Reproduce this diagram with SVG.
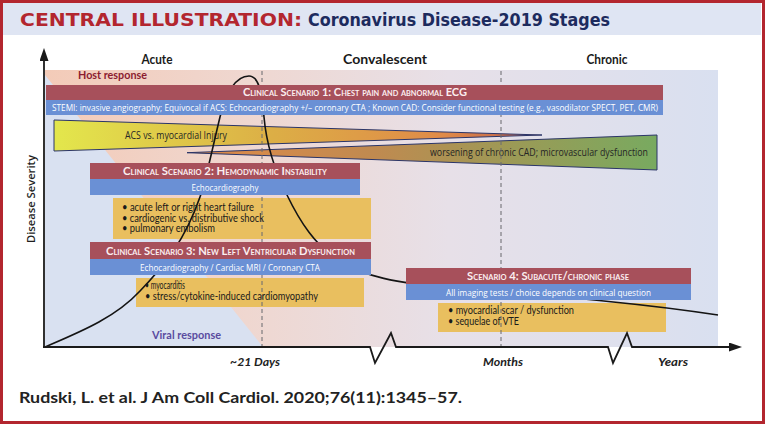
<svg xmlns="http://www.w3.org/2000/svg" width="765" height="424" viewBox="0 0 765 424">
<defs>
<style>
.hdr{font-family:Lato,"Liberation Sans",sans-serif;font-weight:700;font-size:12.5px;fill:#1a1a1a;text-anchor:middle}
.sc{font-family:Lato,"Liberation Sans",sans-serif;font-weight:700;font-size:10.5px;font-variant:small-caps;fill:#fbeef0;text-anchor:middle}
.bt{font-family:"Open Sans","Liberation Sans",sans-serif;font-size:9.5px;fill:#ffffff;text-anchor:middle}
.bl{font-family:Lato,"Liberation Sans",sans-serif;font-size:10.5px;fill:#1a1a1a}
.wt{font-family:"Open Sans","Liberation Sans",sans-serif;font-weight:500;font-size:10.5px;fill:#262626}
.red{fill:#a7505b}
.blue{fill:#6a90d5}
.yel{fill:#e9bf5f}
.ax{font-family:Lato,"Liberation Sans",sans-serif;font-weight:700;font-style:italic;font-size:11.5px;fill:#222222;text-anchor:middle}
.dash{stroke:#6d6d72;stroke-width:1.3;stroke-dasharray:4 3;fill:none;opacity:0.8}
.axis{stroke:#1a1a1a;stroke-width:1.8;fill:none}
.wedge{stroke:#2b3568;stroke-width:1}
</style>
<linearGradient id="peach" gradientUnits="userSpaceOnUse" x1="45" y1="0" x2="718" y2="0">
<stop offset="0" stop-color="#f3cbb8"/>
<stop offset="0.3" stop-color="#efd7d0"/>
<stop offset="0.6" stop-color="#e7e0e8"/>
<stop offset="1" stop-color="#d9e0f0"/>
</linearGradient>
<linearGradient id="w1" gradientUnits="userSpaceOnUse" x1="54" y1="0" x2="542" y2="0">
<stop offset="0" stop-color="#e3e74c"/>
<stop offset="0.45" stop-color="#dcae46"/>
<stop offset="0.8" stop-color="#e08a48"/>
<stop offset="1" stop-color="#b85a4e"/>
</linearGradient>
<linearGradient id="w2" gradientUnits="userSpaceOnUse" x1="187" y1="0" x2="657" y2="0">
<stop offset="0" stop-color="#e08a48"/>
<stop offset="0.4" stop-color="#c08a50"/>
<stop offset="0.7" stop-color="#9b9a56"/>
<stop offset="1" stop-color="#78aa60"/>
</linearGradient>
<marker id="arr" markerUnits="userSpaceOnUse" markerWidth="14" markerHeight="10" refX="0" refY="4.5" orient="auto">
<path d="M0,0 L13,4.5 L0,9 z" fill="#1a1a1a"/>
</marker>
</defs>

<!-- frame and title -->
<rect x="1.5" y="1.5" width="762" height="421" fill="#ffffff" stroke="#b3262f" stroke-width="3"/>
<rect x="3" y="3" width="758" height="32" fill="#dfe5f3"/>
<text x="20" y="26" font-family="'DejaVu Sans',sans-serif" font-weight="700" font-size="18" fill="#b3262f" textLength="282" lengthAdjust="spacingAndGlyphs">CENTRAL ILLUSTRATION:</text>
<text x="308" y="26" font-family="'DejaVu Sans',sans-serif" font-weight="700" font-size="17" fill="#1d2b5e" textLength="302" lengthAdjust="spacingAndGlyphs">Coronavirus Disease-2019 Stages</text>

<!-- plot background -->
<g id="background">
<rect x="45" y="70" width="673" height="277" fill="#d9e1f1"/>
<polygon points="45,70 718,70 718,347 263,347 45,75" fill="url(#peach)"/>
</g>

<!-- column headers -->
<text class="hdr" x="157" y="63.5" textLength="31" lengthAdjust="spacingAndGlyphs">Acute</text>
<text class="hdr" x="385" y="63.5" textLength="84" lengthAdjust="spacingAndGlyphs">Convalescent</text>
<text class="hdr" x="607" y="63.5" textLength="41" lengthAdjust="spacingAndGlyphs">Chronic</text>

<text x="78" y="79" font-family="Lato,'Liberation Sans',sans-serif" font-weight="700" font-size="11.5" fill="#8c1c30" textLength="69" lengthAdjust="spacingAndGlyphs">Host response</text>
<text x="152" y="339" font-family="Lato,'Liberation Sans',sans-serif" font-weight="700" font-size="11.5" fill="#5a4b9f" textLength="69" lengthAdjust="spacingAndGlyphs">Viral response</text>
<text transform="translate(35,199) rotate(-90)" text-anchor="middle" font-family="'Open Sans','Liberation Sans',sans-serif" font-weight="600" font-size="11" fill="#1e1e1e" textLength="88" lengthAdjust="spacingAndGlyphs">Disease Severity</text>

<!-- wedges -->
<g id="wedge-acs">
<polygon class="wedge" points="54,120 542,135 54,151" fill="url(#w1)"/>
<text class="wt" x="125" y="138.5" textLength="102" lengthAdjust="spacingAndGlyphs">ACS vs. myocardial Injury</text>
</g>
<g id="wedge-cad">
<polygon class="wedge" points="187,152.7 657,135 657,170" fill="url(#w2)"/>
<text class="wt" x="430" y="156" font-size="10" textLength="218" lengthAdjust="spacingAndGlyphs">worsening of chronic CAD; microvascular dysfunction</text>
</g>

<!-- yellow boxes -->
<rect id="box2" class="yel" x="113" y="198" width="258" height="41"/>
<rect id="box3" class="yel" x="136" y="278" width="228" height="29"/>
<rect id="box4" class="yel" x="438" y="303" width="228" height="29"/>

<!-- dashed time markers, curve and axes -->
<g id="connectors">
<line class="dash" x1="262" y1="71" x2="262" y2="347"/>
<line class="dash" x1="501" y1="71" x2="501" y2="347"/>
<path id="severity-curve" d="M45,347 C80,332 115,318 140,291 C165,265 185,240 200,197 C206,180 212,150 220,117 C226,92 236,76 249,76 C258,76 262,90 264,117 C266,140 272,165 287,195 C300,222 315,245 340,262 C365,276 395,283 450,288 C530,295 620,300 718,315" fill="none" stroke="#141414" stroke-width="1.6"/>
<line class="axis" x1="44" y1="348" x2="44" y2="61" marker-end="url(#arr)"/>
<polyline class="axis" points="43,347 370,347 375,363 391,333 396,347 608,347 613,363 627,333 632,347 729,347" marker-end="url(#arr)"/>
</g>

<!-- Scenario 1 -->
<g id="scenario1">
<rect class="red" x="46" y="85" width="617" height="15"/>
<rect class="blue" x="46" y="100" width="617" height="15"/>
<text class="sc" x="355" y="95.5" textLength="224" lengthAdjust="spacingAndGlyphs">Clinical Scenario 1: Chest pain and abnormal ECG</text>
<text class="bt" x="355" y="110.5" textLength="606" lengthAdjust="spacingAndGlyphs">STEMI: invasive angiography; Equivocal if ACS: Echocardiography +/– coronary CTA ; Known CAD: Consider functional testing (e.g., vasodilator SPECT, PET, CMR)</text>
</g>

<!-- Scenario 2 -->
<g id="scenario2">
<rect class="red" x="90" y="163" width="270" height="16"/>
<rect class="blue" x="90" y="179" width="270" height="16"/>
<text class="sc" x="225" y="174.5" textLength="204" lengthAdjust="spacingAndGlyphs">Clinical Scenario 2: Hemodynamic Instability</text>
<text class="bt" x="225" y="190.5" textLength="67" lengthAdjust="spacingAndGlyphs">Echocardiography</text>
<text class="bl" x="122" y="211" textLength="132" lengthAdjust="spacingAndGlyphs">• acute left or right heart failure</text>
<text class="bl" x="122" y="221.5" textLength="142" lengthAdjust="spacingAndGlyphs">• cardiogenic vs. distributive shock</text>
<text class="bl" x="122" y="232" textLength="93" lengthAdjust="spacingAndGlyphs">• pulmonary embolism</text>
</g>

<!-- Scenario 3 -->
<g id="scenario3">
<rect class="red" x="90" y="242" width="281" height="17"/>
<rect class="blue" x="90" y="259" width="281" height="16"/>
<text class="sc" x="230.5" y="254.5" textLength="249" lengthAdjust="spacingAndGlyphs">Clinical Scenario 3: New Left Ventricular Dysfunction</text>
<text class="bt" x="230" y="270.5" textLength="180" lengthAdjust="spacingAndGlyphs">Echocardiography / Cardiac MRI / Coronary CTA</text>
<text class="bl" x="145" y="288.5" textLength="40" lengthAdjust="spacingAndGlyphs">• myocarditis</text>
<text class="bl" x="145" y="300" textLength="173" lengthAdjust="spacingAndGlyphs">• stress/cytokine-induced cardiomyopathy</text>
</g>

<!-- Scenario 4 -->
<g id="scenario4">
<rect class="red" x="406" y="268" width="285" height="16"/>
<rect class="blue" x="406" y="284" width="285" height="16"/>
<text class="sc" x="548" y="279.5" textLength="162" lengthAdjust="spacingAndGlyphs">Scenario 4: Subacute/chronic phase</text>
<text class="bt" x="548.5" y="296" textLength="205" lengthAdjust="spacingAndGlyphs">All imaging tests / choice depends on clinical question</text>
<text class="bl" x="448" y="314" textLength="126" lengthAdjust="spacingAndGlyphs">• myocardial scar / dysfunction</text>
<text class="bl" x="448" y="325" textLength="71" lengthAdjust="spacingAndGlyphs">• sequelae of VTE</text>
</g>

<!-- time labels -->
<text class="ax" x="255" y="366" textLength="50" lengthAdjust="spacingAndGlyphs">~21 Days</text>
<text class="ax" x="503" y="366" textLength="40" lengthAdjust="spacingAndGlyphs">Months</text>
<text class="ax" x="673" y="366" textLength="30" lengthAdjust="spacingAndGlyphs">Years</text>

<text x="19" y="403" font-family="Lato,'Liberation Sans',sans-serif" font-weight="700" font-size="15.5" fill="#222222" textLength="443" lengthAdjust="spacingAndGlyphs">Rudski, L. et al. J Am Coll Cardiol. 2020;76(11):1345–57.</text>
</svg>
